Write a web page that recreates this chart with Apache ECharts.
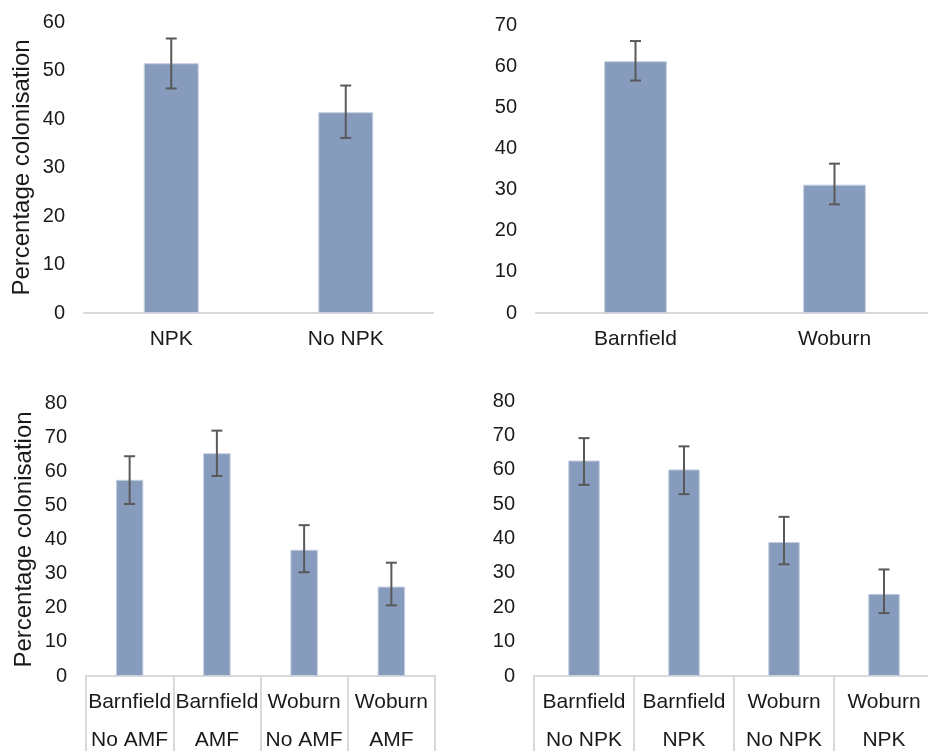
<!DOCTYPE html>
<html>
<head>
<meta charset="utf-8">
<script src="https://cdn.jsdelivr.net/npm/echarts@6/dist/echarts.min.js"></script>
<style>
  html, body { margin: 0; padding: 0; background: #fff; }
  #chart { width: 928px; height: 751px; }
</style>
</head>
<body>
<div id="chart"></div>
<script>
// Mean percentage colonisation with error-bar limits, one set per panel
const fertCats = ['NPK', 'No NPK'];
const fertMean = [51.5, 41.4];
const fertLow = [46.3, 36.1];
const fertHigh = [56.6, 46.9];

const siteCats = ['Barnfield', 'Woburn'];
const siteMean = [61.2, 31.2];
const siteLow = [56.5, 26.4];
const siteHigh = [66.1, 36.3];

const amfCats = ['Barnfield\nNo AMF', 'Barnfield\nAMF', 'Woburn\nNo AMF', 'Woburn\nAMF'];
const amfMean = [57.5, 65.3, 37.0, 26.2];
const amfLow = [50.4, 58.6, 30.4, 20.7];
const amfHigh = [64.4, 71.9, 44.2, 33.2];

const npkCats = ['Barnfield\nNo NPK', 'Barnfield\nNPK', 'Woburn\nNo NPK', 'Woburn\nNPK'];
const npkMean = [62.7, 60.1, 39.0, 23.9];
const npkLow = [55.6, 52.9, 32.5, 18.3];
const npkHigh = [69.2, 66.8, 46.3, 31.0];

const yMax = [60, 70, 80, 80];
const yTitle = 'Percentage colonisation';

const FONT = "'Liberation Sans', Arial, sans-serif";
const TEXT = '#1a1a1a';
const BAR = '#879bbd';
const AXIS = '#d9d9d9';
const ERR = '#595959';

const panels = [
  { cats: fertCats, mean: fertMean, low: fertLow, high: fertHigh, grid: { left: 84, top: 22, width: 349, height: 291 }, title: true, multi: false },
  { cats: siteCats, mean: siteMean, low: siteLow, high: siteHigh, grid: { left: 536, top: 25, width: 398, height: 288 }, title: false, multi: false },
  { cats: amfCats, mean: amfMean, low: amfLow, high: amfHigh, grid: { left: 86, top: 403, width: 349, height: 273 }, title: true, multi: true },
  { cats: npkCats, mean: npkMean, low: npkLow, high: npkHigh, grid: { left: 534, top: 401, width: 400, height: 275 }, title: false, multi: true }
];

const grids = [], xAxes = [], yAxes = [], series = [];

panels.forEach((p, i) => {
  // fixed plot rectangles; labels may run to the page edge
  grids.push(Object.assign({ containLabel: false, outerBoundsMode: 'none' }, p.grid));
  xAxes.push({
    type: 'category',
    gridIndex: i,
    data: p.cats,
    boundaryGap: true,
    axisLine: { show: true, lineStyle: { color: AXIS, width: 2 } },
    axisTick: p.multi
      ? { show: true, length: 82, interval: 0, lineStyle: { color: AXIS, width: 2 } }
      : { show: false },
    axisLabel: {
      interval: 0,
      color: TEXT,
      fontFamily: FONT,
      fontSize: 21,
      lineHeight: p.multi ? 38 : 22,
      margin: p.multi ? 7 : 15
    }
  });
  yAxes.push({
    type: 'value',
    gridIndex: i,
    min: 0,
    max: yMax[i],
    interval: 10,
    name: p.title ? yTitle : '',
    nameLocation: 'middle',
    nameGap: 50,
    nameTextStyle: { color: TEXT, fontFamily: FONT, fontSize: 24 },
    axisLine: { show: false },
    axisTick: { show: false },
    splitLine: { show: false },
    axisLabel: { color: TEXT, fontFamily: FONT, fontSize: 20, margin: 19 }
  });
  series.push({
    type: 'bar',
    xAxisIndex: i,
    yAxisIndex: i,
    data: p.mean,
    barWidth: '31.5%',
    itemStyle: { color: BAR, borderColor: '#c5cfe0', borderWidth: 1 },
    silent: true,
    z: 2
  });
  series.push({
    type: 'custom',
    xAxisIndex: i,
    yAxisIndex: i,
    data: p.cats.map((c, k) => [k, p.low[k], p.high[k]]),
    silent: true,
    z: 5,
    renderItem: function (params, api) {
      const lo = api.coord([api.value(0), api.value(1)]);
      const hi = api.coord([api.value(0), api.value(2)]);
      const x = lo[0];
      const cap = 5.5;
      const style = { stroke: ERR, lineWidth: 2 };
      return {
        type: 'group',
        children: [
          { type: 'line', shape: { x1: x, y1: hi[1], x2: x, y2: lo[1] }, style },
          { type: 'line', shape: { x1: x - cap, y1: hi[1], x2: x + cap, y2: hi[1] }, style },
          { type: 'line', shape: { x1: x - cap, y1: lo[1], x2: x + cap, y2: lo[1] }, style }
        ]
      };
    }
  });
});

const chart = echarts.init(document.getElementById('chart'), null, { renderer: 'canvas' });
chart.setOption({
  animation: false,
  backgroundColor: '#ffffff',
  grid: grids,
  xAxis: xAxes,
  yAxis: yAxes,
  series: series
});
</script>
</body>
</html>
